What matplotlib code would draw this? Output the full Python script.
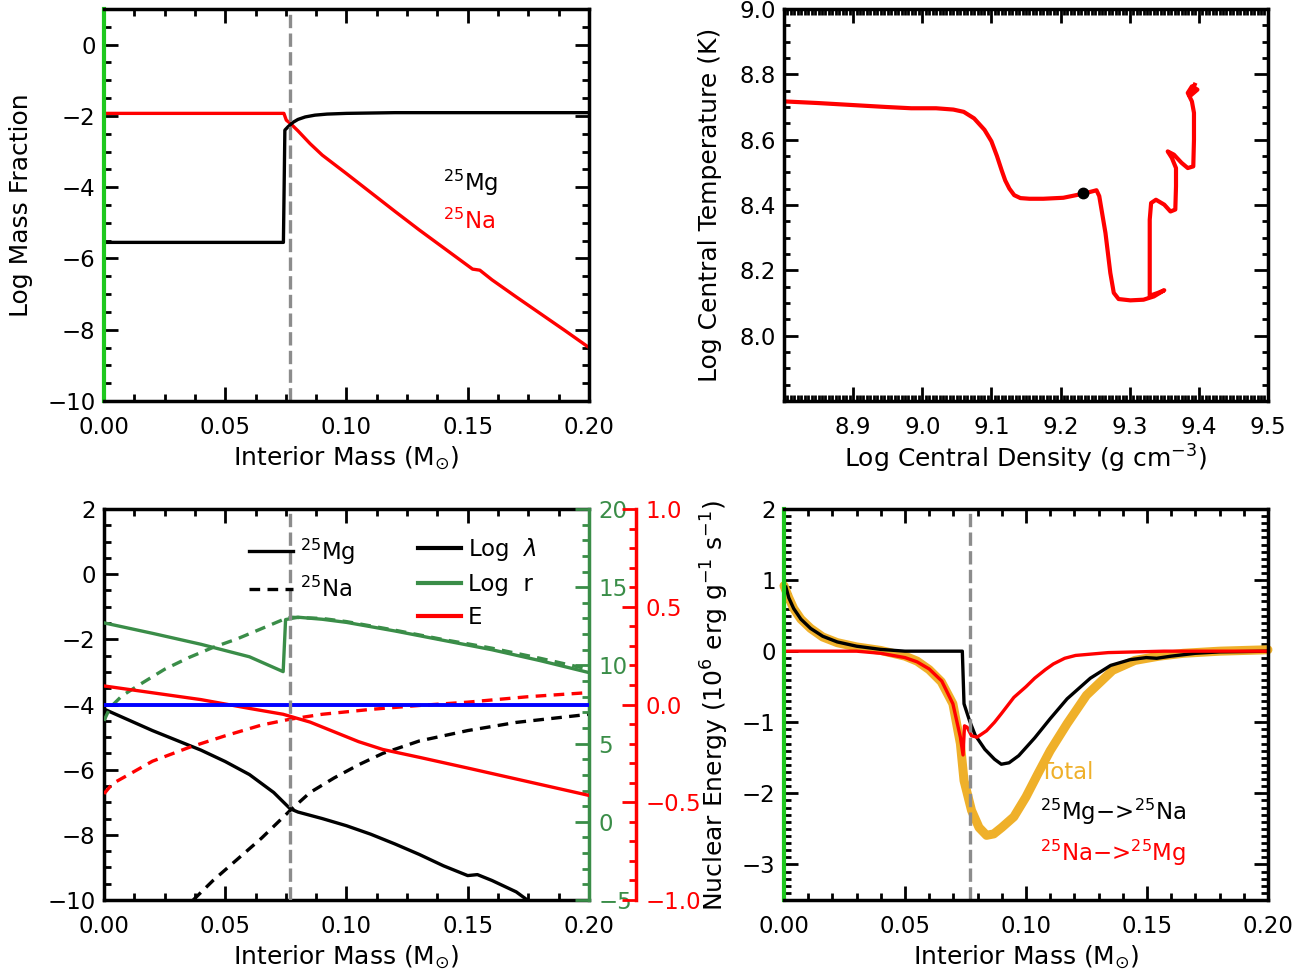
import numpy as np
import matplotlib.pyplot as plt
from matplotlib.lines import Line2D
from matplotlib.ticker import MultipleLocator

plt.rcParams['font.family'] = 'DejaVu Sans'
plt.rcParams['mathtext.fontset'] = 'dejavusans'

# ---- panel 1: mass fractions vs interior mass ----
mass_mg_p1 = [0.0, 0.0740, 0.0743, 0.0746, 0.0760, 0.078, 0.080, 0.083, 0.087, 0.092, 0.100, 0.120, 0.200]
logx_mg_p1 = [-5.55, -5.55, -4.0, -2.40, -2.30, -2.18, -2.10, -2.03, -1.98, -1.95, -1.93, -1.91, -1.91]
mass_na_p1 = [0.0, 0.0742, 0.0752, 0.077, 0.080, 0.085, 0.090, 0.100, 0.110, 0.120, 0.130, 0.140,
              0.150, 0.152, 0.155, 0.160, 0.170, 0.180, 0.190, 0.200]
logx_na_p1 = [-1.93, -1.93, -2.12, -2.22, -2.42, -2.78, -3.10, -3.62, -4.15, -4.68, -5.20, -5.70,
              -6.20, -6.30, -6.33, -6.60, -7.08, -7.55, -8.02, -8.50]
urca_mass = 0.0768

# ---- panel 2: central density / temperature track ----
log_rho_c = [8.800, 8.849, 8.898, 8.947, 8.984, 9.020, 9.045, 9.060, 9.075, 9.090, 9.100, 9.108,
             9.115, 9.120, 9.126, 9.133, 9.142, 9.155, 9.175, 9.204, 9.234, 9.252, 9.256, 9.265,
             9.272, 9.277, 9.284, 9.301, 9.320, 9.335, 9.350, 9.341, 9.329, 9.329, 9.329, 9.331,
             9.338, 9.350, 9.359, 9.366, 9.367, 9.367, 9.361, 9.355, 9.364, 9.375, 9.384, 9.392,
             9.393, 9.393, 9.390, 9.384, 9.390, 9.398, 9.387, 9.394]
log_T_c = [8.717, 8.712, 8.706, 8.700, 8.696, 8.696, 8.692, 8.685, 8.665, 8.630, 8.595, 8.550,
           8.505, 8.475, 8.450, 8.430, 8.421, 8.419, 8.419, 8.422, 8.435, 8.445, 8.427, 8.314,
           8.192, 8.131, 8.112, 8.108, 8.110, 8.120, 8.139, 8.131, 8.122, 8.233, 8.355, 8.406,
           8.416, 8.401, 8.380, 8.386, 8.457, 8.513, 8.544, 8.564, 8.554, 8.529, 8.513, 8.518,
           8.600, 8.682, 8.717, 8.743, 8.763, 8.753, 8.733, 8.768]
dot_rho, dot_T = 9.232, 8.437

# ---- panel 3: rates, radii, energies ----
mass_lam_mg = [0.0, 0.020, 0.040, 0.050, 0.060, 0.070, 0.0768, 0.080, 0.090, 0.100, 0.110,
               0.120, 0.130, 0.140, 0.150, 0.154, 0.160, 0.170, 0.1746]
lam_mg = [-4.14, -4.80, -5.40, -5.75, -6.15, -6.70, -7.20, -7.30, -7.50, -7.72, -7.98,
          -8.28, -8.60, -8.95, -9.25, -9.22, -9.40, -9.75, -10.0]
mass_lam_na = [0.0368, 0.045, 0.055, 0.065, 0.0768, 0.085, 0.095, 0.105, 0.115, 0.130,
               0.150, 0.170, 0.200]
lam_na = [-10.0, -9.40, -8.75, -8.10, -7.25, -6.70, -6.25, -5.85, -5.50, -5.12,
          -4.80, -4.55, -4.30]
mass_r_mg = [0.0, 0.020, 0.040, 0.060, 0.0739, 0.0749, 0.080, 0.090, 0.100, 0.120,
             0.140, 0.150, 0.160, 0.180, 0.200]
logr_mg = [12.72, 12.05, 11.35, 10.55, 9.60, 12.93, 13.08, 12.95, 12.75, 12.20,
           11.60, 11.30, 11.00, 10.30, 9.54]
mass_r_na = [0.0, 0.0025, 0.0074, 0.015, 0.025, 0.035, 0.045, 0.055, 0.065, 0.0739, 0.077,
             0.090, 0.100, 0.120, 0.140, 0.150, 0.160, 0.180, 0.200]
logr_na = [6.46, 7.30, 8.05, 8.80, 9.75, 10.50, 11.15, 11.70, 12.35, 12.93, 13.08,
           13.00, 12.80, 12.25, 11.65, 11.38, 11.10, 10.45, 9.75]
mass_e_mg = [0.0, 0.020, 0.040, 0.060, 0.0739, 0.085, 0.095, 0.105, 0.115, 0.130, 0.150,
             0.175, 0.200]
e_mg = [0.095, 0.060, 0.025, -0.020, -0.050, -0.090, -0.140, -0.190, -0.230, -0.270, -0.325,
        -0.395, -0.465]
mass_e_na = [0.0, 0.0035, 0.010, 0.020, 0.035, 0.050, 0.065, 0.0768, 0.090, 0.110, 0.130,
             0.150, 0.175, 0.200]
e_na = [-0.457, -0.405, -0.360, -0.290, -0.220, -0.160, -0.105, -0.075, -0.050, -0.025,
        -0.005, 0.012, 0.040, 0.061]

# ---- panel 4: nuclear energy ----
mass_e4_mg = [0.0008, 0.002, 0.004, 0.007, 0.011, 0.016, 0.022, 0.030, 0.040, 0.050, 0.0737,
              0.0744, 0.0767, 0.079, 0.083, 0.087, 0.0898, 0.093, 0.097, 0.1036, 0.110, 0.117,
              0.1266, 0.135, 0.143, 0.1497, 0.154, 0.160, 0.170, 0.180, 0.200]
e4_mg = [0.90, 0.75, 0.60, 0.45, 0.32, 0.21, 0.13, 0.07, 0.025, 0.0, 0.0,
         -0.74, -0.98, -1.18, -1.38, -1.52, -1.59, -1.57, -1.47, -1.22, -0.95, -0.67,
         -0.38, -0.20, -0.12, -0.09, -0.10, -0.07, -0.03, -0.01, 0.0]
mass_e4_na = [0.0, 0.030, 0.040, 0.050, 0.055, 0.060, 0.0652, 0.0698, 0.0729, 0.0740, 0.0746,
              0.0757, 0.0775, 0.0798, 0.0837, 0.087, 0.0898, 0.095, 0.100, 0.1036, 0.108,
              0.1113, 0.116, 0.1205, 0.134, 0.157, 0.200]
e4_na = [0.0, 0.0, -0.03, -0.09, -0.15, -0.25, -0.42, -0.74, -1.21, -1.46, -1.05,
         -1.07, -1.19, -1.21, -1.12, -1.00, -0.88, -0.65, -0.50, -0.38, -0.26,
         -0.18, -0.10, -0.06, -0.02, 0.0, 0.0]
mass_e4_tot = [0.0, 0.002, 0.004, 0.007, 0.011, 0.016, 0.022, 0.030, 0.040, 0.050, 0.055,
               0.060, 0.065, 0.0698, 0.0729, 0.0744, 0.0775, 0.0806, 0.0837, 0.0867, 0.090,
               0.095, 0.100, 0.105, 0.110, 0.117, 0.125, 0.1358, 0.145, 0.155, 0.165, 0.180,
               0.200]
e4_tot = [0.92, 0.75, 0.60, 0.45, 0.32, 0.20, 0.12, 0.06, 0.01, -0.07, -0.14,
          -0.26, -0.43, -0.74, -1.30, -1.82, -2.24, -2.48, -2.59, -2.57, -2.48,
          -2.33, -2.05, -1.72, -1.40, -1.02, -0.62, -0.27, -0.13, -0.07, -0.03, 0.0,
          0.02]

GREEN = '#3a8d48'
LIMEGREEN = '#1ec81e'
ORANGE = '#efb02a'
GRAY = '#8c8c8c'
TICK_FS = 16.5
LABEL_FS = 18


def idl_axes(ax, xmaj, xminor, ymaj, yminor, right=True):
    ax.xaxis.set_major_locator(MultipleLocator(xmaj))
    ax.xaxis.set_minor_locator(MultipleLocator(xminor))
    ax.yaxis.set_major_locator(MultipleLocator(ymaj))
    ax.yaxis.set_minor_locator(MultipleLocator(yminor))
    ax.tick_params(which='both', direction='in', top=True, right=right, width=2)
    ax.tick_params(which='major', length=10, labelsize=TICK_FS)
    ax.tick_params(which='minor', length=5)
    ax.tick_params(axis='x', which='major', pad=11)
    ax.tick_params(axis='y', which='major', pad=6)
    for s in ax.spines.values():
        s.set_linewidth(2.5)


def set_labels(ax, xlabel, ylabel=None, ylab_x=-0.17):
    ax.set_xlabel(xlabel, fontsize=LABEL_FS)
    ax.xaxis.label.set_va('center')
    ax.xaxis.set_label_coords(0.5, -0.147)
    if ylabel:
        ax.set_ylabel(ylabel, fontsize=LABEL_FS)
        ax.yaxis.label.set_va('center')
        ax.yaxis.set_label_coords(ylab_x, 0.5)


fig = plt.figure(figsize=(13.01, 9.73), dpi=100)
ax1 = fig.add_axes([0.0799, 0.5879, 0.3728, 0.4029])
ax2 = fig.add_axes([0.6026, 0.5879, 0.3720, 0.4029])
ax3 = fig.add_axes([0.0799, 0.0750, 0.3728, 0.4019])
ax4 = fig.add_axes([0.6026, 0.0750, 0.3720, 0.4019])

xlab_mass = r'Interior Mass (M$_{\odot}$)'

# panel 1
ax1.plot(mass_na_p1, logx_na_p1, color='red', lw=2.4)
ax1.plot(mass_mg_p1, logx_mg_p1, color='black', lw=2.4)
ax1.axvline(urca_mass, color=GRAY, lw=2.4, dashes=(4, 1.6))
ax1.text(0.1398, -3.88, r'$^{25}$Mg', color='black', fontsize=TICK_FS, va='center')
ax1.text(0.1398, -4.95, r'$^{25}$Na', color='red', fontsize=TICK_FS, va='center')
ax1.set_xlim(0, 0.2)
ax1.set_ylim(-10, 1)
idl_axes(ax1, 0.05, 0.0125, 2, 0.5)
ax1.set_xticks([0, 0.05, 0.10, 0.15, 0.20])
ax1.set_xticklabels(['0.00', '0.05', '0.10', '0.15', '0.20'])
ax1.spines['left'].set_color(LIMEGREEN)
ax1.spines['left'].set_linewidth(3)
set_labels(ax1, xlab_mass, 'Log Mass Fraction', ylab_x=-0.172)

# panel 2
ax2.plot(log_rho_c, log_T_c, color='red', lw=3.0, solid_joinstyle='round')
ax2.plot([dot_rho], [dot_T], 'o', color='black', ms=7.5)
ax2.set_xlim(8.8, 9.5)
ax2.set_ylim(7.8, 9.0)
idl_axes(ax2, 0.1, 0.005, 0.2, 0.05)
ax2.tick_params(which='minor', length=4)
ax2.set_xticks([8.9, 9.0, 9.1, 9.2, 9.3, 9.4, 9.5])
ax2.set_yticks([8.0, 8.2, 8.4, 8.6, 8.8, 9.0])
set_labels(ax2, r'Log Central Density (g cm$^{-3}$)', 'Log Central Temperature (K)', ylab_x=-0.152)

# panel 3
ax3g = ax3.twinx()
ax3r = ax3.twinx()
ax3.plot(mass_lam_mg, lam_mg, color='black', lw=2.4)
ax3.plot(mass_lam_na, lam_na, color='black', lw=2.4, dashes=(3.2, 2.2))
ax3g.plot(mass_r_mg, logr_mg, color=GREEN, lw=2.4)
ax3g.plot(mass_r_na, logr_na, color=GREEN, lw=2.4, dashes=(3.2, 2.2))
ax3r.plot(mass_e_mg, e_mg, color='red', lw=2.4)
ax3r.plot(mass_e_na, e_na, color='red', lw=2.4, dashes=(3.2, 2.2))
ax3r.axhline(0.0, color='#0000ff', lw=2.8)
ax3r.axvline(urca_mass, color=GRAY, lw=2.4, dashes=(4, 1.6))
ax3.set_xlim(0, 0.2)
ax3.set_ylim(-10, 2)
ax3g.set_ylim(-5, 20)
ax3r.set_ylim(-1, 1)
idl_axes(ax3, 0.05, 0.0125, 2, 0.5, right=False)
ax3.set_xticks([0, 0.05, 0.10, 0.15, 0.20])
ax3.set_xticklabels(['0.00', '0.05', '0.10', '0.15', '0.20'])
ax3.spines['right'].set_visible(False)

ax3g.yaxis.set_major_locator(MultipleLocator(5))
ax3g.yaxis.set_minor_locator(MultipleLocator(1))
ax3g.tick_params(which='both', direction='in', width=2, colors=GREEN)
ax3g.tick_params(which='major', length=10, labelsize=TICK_FS, pad=7)
ax3g.tick_params(which='minor', length=5)
for name, s in ax3g.spines.items():
    s.set_visible(name == 'right')
ax3g.spines['right'].set_color(GREEN)
ax3g.spines['right'].set_linewidth(2.5)

ax3r.spines['right'].set_position(('outward', 34))
ax3r.yaxis.set_major_locator(MultipleLocator(0.5))
ax3r.yaxis.set_minor_locator(MultipleLocator(0.1))
ax3r.tick_params(which='both', direction='in', width=2, colors='red')
ax3r.tick_params(which='major', length=10, labelsize=TICK_FS, pad=7)
ax3r.tick_params(which='minor', length=5)
ax3r.set_yticks([-1.0, -0.5, 0.0, 0.5, 1.0])
ax3r.set_yticklabels(['\u22121.0', '\u22120.5', '0.0', '0.5', '1.0'])
for name, s in ax3r.spines.items():
    s.set_visible(name == 'right')
ax3r.spines['right'].set_color('red')
ax3r.spines['right'].set_linewidth(2.5)
set_labels(ax3, xlab_mass)

iso_handles = [Line2D([], [], color='black', lw=2.4),
               Line2D([], [], color='black', lw=2.4, dashes=(3.2, 2.2))]
leg1 = ax3r.legend(iso_handles, [r'$^{25}$Mg', r'$^{25}$Na'], loc='upper left',
                   bbox_to_anchor=(0.30, 0.93), frameon=False, fontsize=TICK_FS,
                   handlelength=1.9, handletextpad=0.3, labelspacing=0.43,
                   borderpad=0, borderaxespad=0)
ax3r.add_artist(leg1)
qty_handles = [Line2D([], [], color='black', lw=3),
               Line2D([], [], color=GREEN, lw=3),
               Line2D([], [], color='red', lw=3)]
ax3r.legend(qty_handles, [r'Log  $\lambda$', 'Log  r', 'E'], loc='upper left',
            bbox_to_anchor=(0.647, 0.93), frameon=False, fontsize=TICK_FS,
            handlelength=1.9, handletextpad=0.3, labelspacing=0.43,
            borderpad=0, borderaxespad=0)
fig.text(715 / 1301, 1 - 705 / 973,
         r'Nuclear Energy (10$^6$ erg g$^{-1}$ s$^{-1}$)',
         rotation=90, ha='center', va='center', fontsize=LABEL_FS)

# panel 4
ax4.plot(mass_e4_tot, e4_tot, color=ORANGE, lw=6.5, solid_capstyle='round', clip_on=False)
ax4.plot(mass_e4_mg, e4_mg, color='black', lw=2.4)
ax4.plot(mass_e4_na, e4_na, color='red', lw=2.4)
ax4.axvline(urca_mass, color=GRAY, lw=2.4, dashes=(4, 1.6))
ax4.text(0.1058, -1.71, 'Total', color=ORANGE, fontsize=TICK_FS, va='center')
ax4.text(0.1058, -2.26, r'$^{25}$Mg$-$>$^{25}$Na', color='black', fontsize=TICK_FS, va='center')
ax4.text(0.1058, -2.84, r'$^{25}$Na$-$>$^{25}$Mg', color='red', fontsize=TICK_FS, va='center')
ax4.set_xlim(0, 0.2)
ax4.set_ylim(-3.5, 2)
idl_axes(ax4, 0.05, 0.01, 1, 0.1)
ax4.set_xticks([0, 0.05, 0.10, 0.15, 0.20])
ax4.set_xticklabels(['0.00', '0.05', '0.10', '0.15', '0.20'])
ax4.spines['left'].set_color(LIMEGREEN)
ax4.spines['left'].set_linewidth(3)
set_labels(ax4, xlab_mass)

fig.savefig('out.png', dpi=100)
